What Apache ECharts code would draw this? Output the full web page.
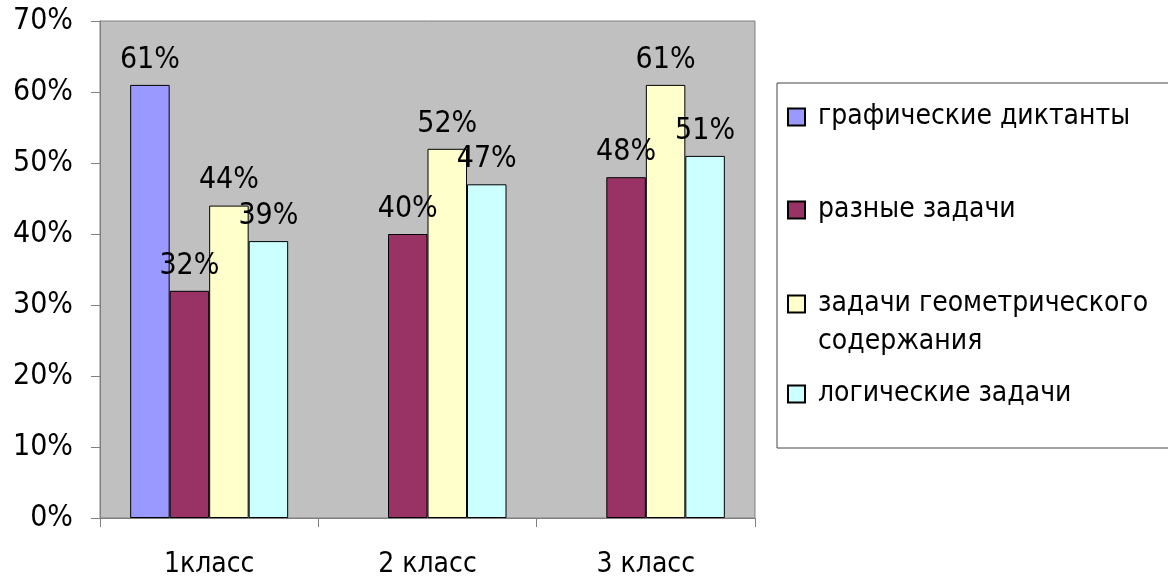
<!DOCTYPE html>
<html>
<head>
<meta charset="utf-8">
<script src="https://cdn.jsdelivr.net/npm/echarts@6/dist/echarts.min.js"></script>
<style>
html,body{margin:0;padding:0;background:#fff;}
#chart{width:1168px;height:582px;}
</style>
</head>
<body>
<div id="chart"></div>
<script>
const categories = ['1класс', '2 класс', '3 класс'];
const seriesNames = ['графические диктанты', 'разные задачи', 'задачи геометрического содержания', 'логические задачи'];
const graphicDictations = [61, null, null];
const variousTasks = [32, 40, 48];
const geometryTasks = [44, 52, 61];
const logicTasks = [39, 47, 51];
const yTicks = [0, 10, 20, 30, 40, 50, 60, 70];

const colors = ['#9999FF', '#993366', '#FFFFCC', '#CCFFFF'];
const seriesData = [graphicDictations, variousTasks, geometryTasks, logicTasks];
const FONT = '"DejaVu Sans Condensed", "DejaVu Sans", sans-serif';

const chart = echarts.init(document.getElementById('chart'), null, {renderer: 'canvas'});

const legendTops = [98, 191, 247, 375];
const legends = seriesNames.map((name, i) => ({
  data: [name],
  left: 787,
  top: legendTops[i],
  padding: 0,
  orient: 'vertical',
  icon: 'rect',
  itemWidth: 17,
  itemHeight: 17,
  selectedMode: false,
  formatter: i === 2 ? '\nзадачи геометрического\nсодержания' : '{name}',
  textStyle: {
    fontFamily: FONT,
    fontSize: 28,
    color: '#000',
    lineHeight: 38,
    padding: [0, 0, 0, 8]
  }
}));

const option = {
  animation: false,
  backgroundColor: '#fff',
  color: colors,
  graphic: [{
    type: 'rect',
    z: -1,
    shape: {x: 777, y: 83, width: 420, height: 365},
    style: {fill: '#fff', stroke: '#444', lineWidth: 1}
  }],
  legend: legends,
  grid: {
    left: 100, right: 413, top: 21, bottom: 64,
    show: true,
    backgroundColor: '#C0C0C0',
    borderColor: '#808080',
    borderWidth: 1
  },
  xAxis: {
    type: 'category',
    data: categories,
    axisLine: {lineStyle: {color: '#808080', width: 1}},
    axisTick: {show: true, length: 9, lineStyle: {color: '#808080'}},
    axisLabel: {fontFamily: FONT, fontSize: 28, color: '#000', margin: 33}
  },
  yAxis: {
    type: 'value',
    min: yTicks[0],
    max: yTicks[yTicks.length - 1],
    interval: 10,
    splitLine: {show: false},
    axisLine: {show: true, lineStyle: {color: '#808080', width: 1}},
    axisTick: {show: true, length: 9, lineStyle: {color: '#808080'}},
    axisLabel: {fontFamily: FONT, fontSize: 30, color: '#000', margin: 27, formatter: '{value}%'}
  },
  series: seriesNames.map((name, i) => ({
    name: name,
    type: 'bar',
    data: seriesData[i],
    barWidth: 39.5,
    barGap: '0%',
    itemStyle: {color: colors[i], borderColor: '#000', borderWidth: 1},
    label: {
      show: true,
      position: 'top',
      distance: 10,
      formatter: '{c}%',
      fontFamily: FONT,
      fontSize: 30,
      color: '#000'
    }
  }))
};
chart.setOption(option);
</script>
</body>
</html>
